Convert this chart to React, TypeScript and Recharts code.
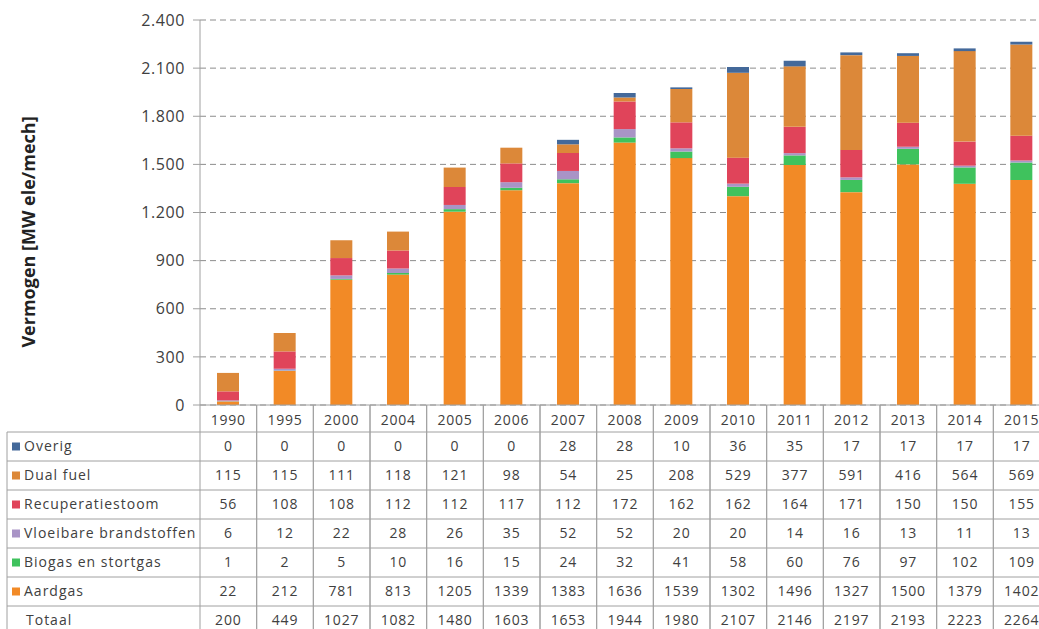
import React from "react";
import {
  BarChart,
  Bar,
  XAxis,
  YAxis,
  CartesianGrid,
} from "recharts";

const years = ["1990", "1995", "2000", "2004", "2005", "2006", "2007", "2008", "2009", "2010", "2011", "2012", "2013", "2014", "2015"];
const aardgas = [22, 212, 781, 813, 1205, 1339, 1383, 1636, 1539, 1302, 1496, 1327, 1500, 1379, 1402];
const biogas = [1, 2, 5, 10, 16, 15, 24, 32, 41, 58, 60, 76, 97, 102, 109];
const vloeibaar = [6, 12, 22, 28, 26, 35, 52, 52, 20, 20, 14, 16, 13, 11, 13];
const recuperatie = [56, 108, 108, 112, 112, 117, 112, 172, 162, 162, 164, 171, 150, 150, 155];
const dualFuel = [115, 115, 111, 118, 121, 98, 54, 25, 208, 529, 377, 591, 416, 564, 569];
const overig = [0, 0, 0, 0, 0, 0, 28, 28, 10, 36, 35, 17, 17, 17, 17];
const totaal = [200, 449, 1027, 1082, 1480, 1603, 1653, 1944, 1980, 2107, 2146, 2197, 2193, 2223, 2264];
const yTicks = [0, 300, 600, 900, 1200, 1500, 1800, 2100, 2400];

// stacked bottom to top
const series = [
  { key: "aardgas", name: "Aardgas", color: "#F28A26", values: aardgas },
  { key: "biogas", name: "Biogas en stortgas", color: "#3FC25D", values: biogas },
  { key: "vloeibaar", name: "Vloeibare brandstoffen", color: "#A994C6", values: vloeibaar },
  { key: "recuperatie", name: "Recuperatiestoom", color: "#E0445A", values: recuperatie },
  { key: "dualFuel", name: "Dual fuel", color: "#DC8839", values: dualFuel },
  { key: "overig", name: "Overig", color: "#44699A", values: overig },
];

// table rows, top to bottom
const tableRows = [
  ...series.slice().reverse().map((s) => ({ name: s.name, color: s.color, values: s.values })),
  { name: "Totaal", color: null as string | null, values: totaal },
];

const data = years.map((year, i) => {
  const row: Record<string, string | number> = { year };
  series.forEach((s) => (row[s.key] = s.values[i]));
  return row;
});

const FONT = "'Open Sans', sans-serif";
const TEXT = "#404040";
const LINE = "#A0A0A0";
const COL_W = 850 / 15;
const HEAD_H = 27;
const ROW_H = 29;
const TABLE_LEFT = 7;

const fmt = (v: number) => String(v).replace(/\B(?=(\d{3})+(?!\d))/g, ".");

const TableTick = (props: any) => {
  const { x, y, payload } = props;
  const i = payload.index;
  const left = x - COL_W / 2;
  const bottom = y + HEAD_H + ROW_H * tableRows.length;
  return (
    <g fontFamily={FONT} fontSize={14} fill={TEXT} letterSpacing={0.8}>
      <line x1={left} x2={left} y1={y} y2={bottom} stroke={LINE} />
      <line x1={left + COL_W} x2={left + COL_W} y1={y} y2={bottom} stroke={LINE} />
      <text x={x} y={y + HEAD_H / 2 + 3} textAnchor="middle" dominantBaseline="middle">
        {payload.value}
      </text>
      {tableRows.map((r, ri) => {
        const top = y + HEAD_H + ri * ROW_H;
        return (
          <g key={r.name}>
            <line x1={left} x2={left + COL_W} y1={top} y2={top} stroke={LINE} />
            <text x={x} y={top + ROW_H / 2 + 1} textAnchor="middle" dominantBaseline="middle">
              {r.values[i]}
            </text>
          </g>
        );
      })}
      {i === 0 && (
        <g>
          <line x1={TABLE_LEFT} x2={TABLE_LEFT} y1={y + HEAD_H} y2={bottom} stroke={LINE} />
          {tableRows.map((r, ri) => {
            const top = y + HEAD_H + ri * ROW_H;
            return (
              <g key={r.name}>
                <line x1={TABLE_LEFT} x2={left} y1={top} y2={top} stroke={LINE} />
                {r.color && (
                  <rect x={TABLE_LEFT + 5} y={top + ROW_H / 2 - 4} width={8} height={8} fill={r.color} />
                )}
                <text
                  x={TABLE_LEFT + (r.color ? 17 : 19)}
                  y={top + ROW_H / 2 + 1}
                  dominantBaseline="middle"
                  textAnchor="start"
                  letterSpacing={1}
                >
                  {r.name}
                </text>
              </g>
            );
          })}
        </g>
      )}
    </g>
  );
};

const YLabel = () => (
  <text
    x={30}
    y={232}
    transform="rotate(-90 30 232)"
    textAnchor="middle"
    dominantBaseline="middle"
    fontFamily={FONT}
    fontSize={18}
    fontWeight={700}
    fill="#222"
  >
    Vermogen [MW ele/mech]
  </text>
);

export default function App() {
  return (
    <div
      style={{
        position: "absolute",
        left: 0,
        top: 0,
        width: 1039,
        height: 629,
        overflow: "hidden",
        background: "#fff",
      }}
    >
      <BarChart
        width={1050}
        height={629}
        data={data}
        margin={{ top: 20, right: 0, left: 0, bottom: 0 }}
        barSize={22}
      >
        <CartesianGrid vertical={false} stroke="#8C8C8C" strokeDasharray="6 4" />
        <XAxis
          dataKey="year"
          interval={0}
          height={224}
          tickSize={0}
          tickMargin={0}
          tickLine={false}
          axisLine={{ stroke: "#A0A0A0" }}
          tick={<TableTick />}
        />
        <YAxis
          width={200}
          domain={[0, 2400]}
          ticks={yTicks}
          tickFormatter={fmt}
          tickSize={7}
          tickMargin={8}
          tickLine={{ stroke: "#A0A0A0" }}
          axisLine={{ stroke: "#A0A0A0" }}
          tick={{ fill: TEXT, fontSize: 16, fontFamily: FONT, letterSpacing: 0.6 }}
          label={<YLabel />}
        />
        {series.map((s) => (
          <Bar key={s.key} dataKey={s.key} name={s.name} stackId="a" fill={s.color} isAnimationActive={false} />
        ))}
      </BarChart>
    </div>
  );
}
